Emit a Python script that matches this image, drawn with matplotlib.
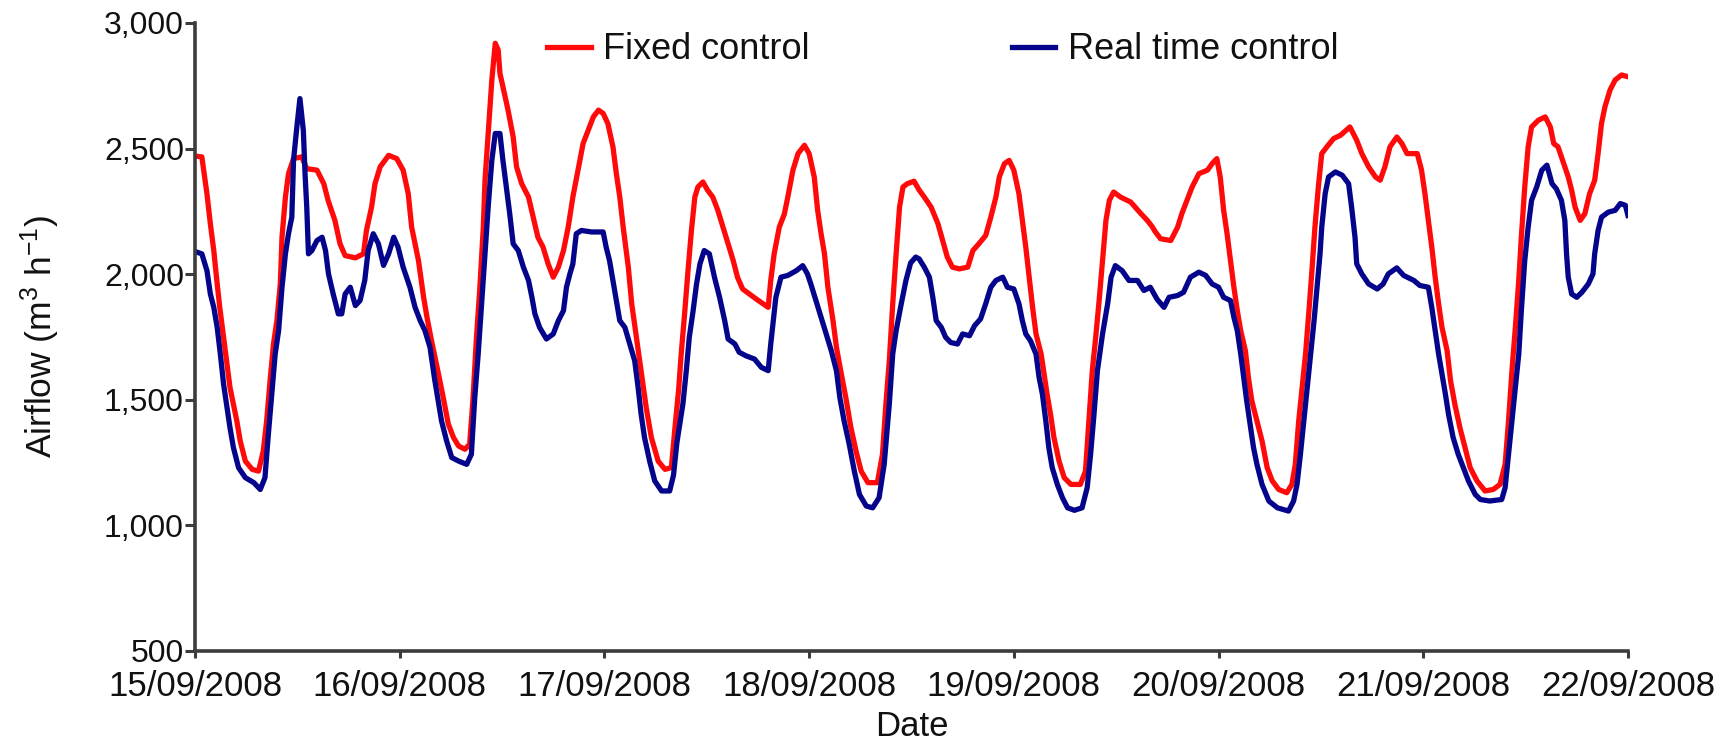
import pandas as pd
import matplotlib
matplotlib.use("Agg")
import matplotlib.pyplot as plt
import matplotlib.dates as mdates
from matplotlib.ticker import FuncFormatter

# Hours after 15/09/2008 00:00 and airflow (m3/h)
fixed_hours = [0, 0.8, 1.4, 1.8, 2.2, 2.6, 2.9, 3.4, 3.75, 4.1, 4.5, 4.9, 5.3, 5.9, 6.7, 7.45, 8.0, 8.4, 8.8, 9.2,
               9.6, 10.0, 10.2, 10.6, 10.96, 11.55, 12.5, 13.1, 14.3, 15.1, 15.6, 16.4, 17.0, 17.6, 18.8, 19.75,
               20.1, 20.7, 21.1, 21.7, 22.7, 23.65, 24.4, 25.0, 25.4, 26.2, 26.8, 27.2, 27.7, 28.5, 29.1, 29.7,
               30.3, 30.9, 31.65, 32.2, 32.6, 33.0, 33.4, 33.8, 34.0, 34.4, 34.8, 35.2, 35.55, 35.75, 36.1, 36.7,
               37.3, 37.7, 38.3, 39.1, 39.65, 40.2, 40.8, 41.4, 42.0, 42.6, 43.2, 43.75, 44.3, 44.9, 45.5, 46.1,
               46.7, 47.3, 47.85, 48.4, 49.0, 49.4, 49.8, 50.2, 50.8, 51.2, 51.75, 52.3, 52.9, 53.5, 54.3, 55.1,
               55.85, 56.3, 56.7, 57.0, 57.4, 57.8, 58.2, 58.6, 58.96, 59.55, 60.1, 60.7, 61.3, 61.9, 62.5, 63.1,
               63.6, 64.2, 65.0, 65.8, 66.6, 67.2, 67.5, 67.9, 68.5, 69.1, 69.5, 70.1, 70.7, 71.45, 72.0, 72.6,
               73.0, 73.4, 73.8, 74.2, 74.8, 75.2, 75.7, 76.3, 76.9, 77.5, 78.1, 78.9, 80.0, 80.6, 81.0, 81.4,
               81.8, 82.2, 82.6, 83.0, 83.5, 84.3, 84.9, 85.5, 86.3, 87.1, 87.65, 88.2, 88.8, 89.6, 90.6, 91.2,
               91.9, 92.7, 93.3, 93.9, 94.3, 94.9, 95.45, 96.0, 96.6, 97.0, 97.4, 97.8, 98.2, 98.6, 99.2, 99.55,
               99.9, 100.3, 100.7, 101.3, 101.9, 102.7, 103.8, 104.4, 104.8, 105.2, 105.6, 106.0, 106.4, 106.8,
               107.2, 107.7, 108.5, 109.7, 110.9, 111.65, 112.2, 112.6, 113.2, 114.4, 115.2, 115.7, 116.3, 116.9,
               117.7, 118.7, 119.25, 119.8, 120.2, 120.6, 121.0, 121.4, 121.8, 122.2, 122.6, 123.15, 123.5, 123.9,
               124.5, 125.1, 125.7, 126.3, 127.05, 128.0, 128.6, 129.0, 129.4, 129.8, 130.2, 130.6, 130.95, 131.3,
               131.7, 132.1, 132.7, 133.5, 134.3, 135.4, 136.2, 136.8, 137.6, 138.4, 138.95, 139.5, 140.1, 140.9,
               141.5, 142.1, 143.3, 143.8, 144.2, 144.6, 145.0, 145.4, 145.8, 146.2, 146.8, 147.2, 147.7, 148.3,
               148.9, 149.5, 150.3, 151.25, 152.2, 153.0, 153.6, 154.0, 154.4, 154.8, 155.2, 155.5, 155.9, 156.3,
               156.7, 157.5, 158.3, 158.9, 159.3, 159.8, 160.2, 160.6, 161.0, 161.4, 161.8, 162.4, 162.95, 163.5,
               164.1, 164.5, 164.9, 165.3, 165.9, 166.5, 167.25, 168.0]
fixed_flow = [2470, 2467, 2320, 2200, 2094, 1961, 1868, 1735, 1642, 1549, 1483, 1416, 1336, 1256, 1223, 1216, 1296,
              1416, 1576, 1722, 1815, 1961, 2148, 2307, 2400, 2460, 2467, 2420, 2414, 2360, 2294, 2214, 2121, 2074,
              2065, 2081, 2174, 2267, 2360, 2427, 2473, 2460, 2414, 2320, 2187, 2054, 1908, 1828, 1740, 1610, 1509,
              1403, 1350, 1316, 1303, 1323, 1509, 1749, 1948, 2187, 2374, 2573, 2773, 2919, 2892, 2799, 2746, 2653,
              2547, 2427, 2360, 2307, 2227, 2147, 2108, 2041, 1988, 2028, 2094, 2187, 2307, 2414, 2520, 2573, 2626,
              2653, 2640, 2600, 2507, 2400, 2307, 2187, 2028, 1882, 1749, 1616, 1469, 1350, 1256, 1223, 1230, 1400,
              1540, 1682, 1842, 2014, 2174, 2307, 2347, 2367, 2334, 2307, 2254, 2187, 2121, 2054, 1988, 1941, 1921,
              1901, 1882, 1868, 1975, 2081, 2187, 2240, 2307, 2414, 2480, 2513, 2480, 2387, 2254, 2161, 2081, 1948,
              1815, 1709, 1616, 1509, 1389, 1296, 1216, 1170, 1170, 1283, 1483, 1655, 1882, 2081, 2267, 2347, 2360,
              2370, 2335, 2307, 2267, 2201, 2134, 2068, 2028, 2021, 2028, 2094, 2121, 2154, 2227, 2307, 2387, 2440,
              2453, 2414, 2320, 2214, 2108, 1988, 1868, 1762, 1682, 1602, 1522, 1443, 1350, 1256, 1190, 1163, 1163,
              1216, 1416, 1616, 1749, 1895, 2054, 2214, 2294, 2327, 2307, 2287, 2241, 2214, 2190, 2168, 2141, 2134,
              2187, 2241, 2294, 2347, 2400, 2414, 2440, 2460, 2387, 2254, 2161, 2054, 1948, 1855, 1775, 1695, 1589,
              1496, 1416, 1336, 1230, 1177, 1143, 1130, 1163, 1243, 1416, 1549, 1682, 1855, 2014, 2187, 2347, 2480,
              2507, 2540, 2553, 2586, 2533, 2480, 2427, 2387, 2374, 2427, 2507, 2546, 2520, 2480, 2480, 2414, 2320,
              2214, 2108, 1988, 1882, 1788, 1695, 1576, 1483, 1389, 1310, 1230, 1177, 1137, 1143, 1163, 1243, 1416,
              1616, 1788, 1975, 2148, 2347, 2507, 2586, 2613, 2626, 2586, 2520, 2507, 2467, 2427, 2387, 2334, 2267,
              2214, 2241, 2320, 2374, 2480, 2600, 2666, 2733, 2773, 2793, 2786]

realtime_hours = [0, 0.8, 1.4, 1.8, 2.2, 2.6, 2.97, 3.35, 3.75, 4.1, 4.5, 5.1, 5.9, 6.9, 7.65, 8.2, 8.6, 9.0, 9.4,
                  9.8, 10.2, 10.6, 10.96, 11.35, 11.55, 11.9, 12.3, 12.7, 12.9, 13.1, 13.3, 13.7, 14.3, 14.9, 15.3,
                  15.65, 16.2, 16.8, 17.2, 17.6, 18.2, 18.8, 19.35, 19.9, 20.3, 20.9, 21.5, 22.1, 22.7, 23.3, 23.8,
                  24.4, 25.2, 25.8, 26.4, 26.96, 27.55, 28.1, 28.9, 29.5, 30.1, 30.9, 31.85, 32.4, 32.8, 33.2, 33.6,
                  34.0, 34.4, 34.8, 35.2, 35.75, 36.1, 36.5, 36.9, 37.3, 37.9, 38.5, 39.1, 39.5, 39.85, 40.4, 41.2,
                  42.0, 42.6, 43.2, 43.55, 43.95, 44.3, 44.7, 45.3, 46.5, 47.85, 48.2, 48.6, 49.0, 49.4, 49.8, 50.4,
                  50.97, 51.55, 51.95, 52.3, 52.7, 53.3, 53.9, 54.7, 55.65, 56.1, 56.5, 57.2, 57.6, 57.95, 58.4, 58.8,
                  59.2, 59.7, 60.3, 60.9, 61.5, 62.1, 62.5, 63.3, 63.8, 64.6, 65.6, 66.4, 67.2, 67.5, 68.1, 68.7,
                  69.5, 70.5, 71.25, 71.8, 72.2, 72.8, 73.4, 74.0, 74.6, 75.2, 75.6, 76.1, 76.7, 77.3, 77.9, 78.7,
                  79.45, 80.2, 80.8, 81.4, 81.8, 82.2, 82.8, 83.35, 83.9, 84.5, 84.9, 85.5, 86.1, 86.5, 86.9, 87.5,
                  88.0, 88.6, 89.4, 90.0, 90.8, 91.4, 92.1, 92.7, 93.3, 93.9, 94.7, 95.25, 96.0, 96.6, 97.0, 97.4,
                  97.95, 98.6, 98.96, 99.35, 99.75, 100.1, 100.5, 101.1, 101.7, 102.3, 103.1, 104.0, 104.6, 105.0,
                  105.4, 105.8, 106.4, 107.0, 107.4, 107.9, 108.7, 109.5, 110.5, 111.25, 112.0, 112.8, 113.6, 114.2,
                  115.2, 115.9, 116.7, 117.7, 118.5, 119.25, 120.0, 120.6, 121.4, 121.8, 122.2, 122.6, 122.95, 123.3,
                  123.7, 124.1, 124.5, 125.1, 125.9, 126.9, 128.2, 128.8, 129.2, 129.6, 130.0, 130.4, 130.8, 131.2,
                  131.55, 131.9, 132.1, 132.5, 132.9, 133.7, 134.5, 135.25, 135.6, 136.0, 136.2, 136.8, 137.6, 138.6,
                  139.3, 139.9, 140.9, 141.7, 142.9, 143.6, 144.6, 145.0, 145.4, 145.8, 146.2, 146.6, 146.96, 147.5,
                  148.1, 148.7, 149.3, 150.1, 150.7, 151.8, 153.2, 153.6, 154.0, 154.4, 154.8, 155.2, 155.5, 155.9,
                  156.3, 156.7, 157.3, 157.9, 158.5, 159.1, 159.6, 160.2, 160.6, 160.8, 161.0, 161.4, 162.0, 162.6,
                  163.35, 163.9, 164.1, 164.5, 164.9, 165.7, 166.5, 167.1, 167.7, 168.0]
realtime_flow = [2090, 2081, 2014, 1921, 1868, 1788, 1682, 1562, 1469, 1389, 1310, 1230, 1190, 1170, 1143, 1190,
                 1363, 1522, 1682, 1775, 1948, 2081, 2161, 2227, 2453, 2573, 2699, 2573, 2400, 2267, 2081, 2094,
                 2134, 2147, 2094, 2001, 1921, 1842, 1842, 1921, 1948, 1875, 1895, 1975, 2094, 2161, 2121, 2035,
                 2081, 2147, 2108, 2028, 1948, 1868, 1815, 1775, 1709, 1580, 1416, 1336, 1270, 1256, 1243, 1283,
                 1509, 1682, 1882, 2081, 2281, 2453, 2560, 2560, 2453, 2347, 2240, 2121, 2094, 2028, 1975, 1908,
                 1842, 1788, 1742, 1762, 1815, 1855, 1948, 2001, 2041, 2161, 2174, 2168, 2168, 2108, 2054, 1975,
                 1895, 1815, 1788, 1722, 1655, 1549, 1443, 1350, 1256, 1177, 1137, 1137, 1200, 1330, 1483, 1616,
                 1749, 1855, 1961, 2041, 2094, 2081, 1988, 1908, 1815, 1742, 1722, 1689, 1675, 1662, 1629, 1616,
                 1722, 1908, 1988, 1995, 2014, 2034, 2001, 1961, 1895, 1828, 1762, 1695, 1616, 1509, 1416, 1323,
                 1216, 1123, 1077, 1070, 1110, 1243, 1483, 1682, 1775, 1882, 1975, 2045, 2068, 2061, 2028, 1988,
                 1908, 1815, 1788, 1749, 1728, 1722, 1762, 1755, 1795, 1822, 1882, 1948, 1975, 1988, 1948, 1941,
                 1882, 1815, 1762, 1735, 1682, 1589, 1522, 1416, 1310, 1230, 1163, 1110, 1070, 1060, 1070, 1150,
                 1283, 1443, 1616, 1762, 1882, 1988, 2034, 2014, 1975, 1975, 1935, 1948, 1900, 1868, 1908, 1915,
                 1928, 1988, 2008, 1995, 1961, 1948, 1908, 1895, 1828, 1775, 1682, 1589, 1496, 1403, 1310, 1243,
                 1163, 1097, 1070, 1057, 1097, 1163, 1283, 1416, 1549, 1682, 1815, 1948, 2081, 2187, 2320, 2387,
                 2407, 2394, 2360, 2267, 2147, 2041, 2001, 1961, 1941, 1961, 2001, 2025, 1995, 1975, 1955, 1948,
                 1868, 1775, 1682, 1602, 1522, 1443, 1350, 1283, 1230, 1177, 1123, 1103, 1097, 1103, 1150, 1283,
                 1416, 1549, 1682, 1855, 2054, 2187, 2294, 2347, 2414, 2434, 2360, 2340, 2294, 2214, 2081, 1988,
                 1921, 1908, 1928, 1961, 2001, 2081, 2174, 2227, 2247, 2254, 2281, 2274, 2234]

series_names = ["Fixed control", "Real time control"]
y_ticks = [500, 1000, 1500, 2000, 2500, 3000]

plt.rcParams["font.family"] = ["Liberation Sans", "DejaVu Sans"]
plt.rcParams["mathtext.fontset"] = "custom"
plt.rcParams["mathtext.rm"] = "Liberation Sans"
plt.rcParams["mathtext.it"] = "Liberation Sans"
plt.rcParams["mathtext.default"] = "regular"

start = pd.Timestamp("2008-09-15")
fixed_t = start + pd.to_timedelta(fixed_hours, unit="h")
realtime_t = start + pd.to_timedelta(realtime_hours, unit="h")

fig = plt.figure(figsize=(17.35, 7.48), dpi=100)
ax = fig.add_axes([0.1124, 0.1297, 0.8259, 0.8396])

ax.plot(fixed_t, fixed_flow, color="#ff0a0a", lw=3.8, label=series_names[0])
ax.plot(realtime_t, realtime_flow, color="#05058c", lw=3.8, label=series_names[1])

ax.set_xlim(start, start + pd.Timedelta(days=7))
ax.set_ylim(500, 3000)
ax.set_yticks(y_ticks)
ax.yaxis.set_major_formatter(FuncFormatter(lambda v, p: f"{v:,.0f}"))
ax.xaxis.set_major_locator(mdates.DayLocator())
ax.xaxis.set_major_formatter(mdates.DateFormatter("%d/%m/%Y"))

for s in ["top", "right"]:
    ax.spines[s].set_visible(False)
for s in ["left", "bottom"]:
    ax.spines[s].set_linewidth(2.6)
    ax.spines[s].set_color("#3c3c3c")

ax.tick_params(axis="y", direction="out", length=7, width=2.2, color="#3c3c3c",
               labelsize=23, pad=1, labelcolor="#111111")
ax.tick_params(axis="x", direction="out", length=5, width=2.2, color="#3c3c3c",
               labelsize=25, pad=9, labelcolor="#111111")

ax.set_ylabel("Airflow (m$^{3}$ h$^{-1}$)", fontsize=25.5, color="#111111", labelpad=30)
ax.set_xlabel("Date", fontsize=25, color="#111111", labelpad=5)

leg = ax.legend(loc="center", bbox_to_anchor=(0.522, 0.957), ncol=2, frameon=False,
                fontsize=26, handlelength=1.2, handletextpad=0.35, columnspacing=5.6)
for t in leg.get_texts():
    t.set_color("#111111")

plt.savefig("out.png", dpi=100)
